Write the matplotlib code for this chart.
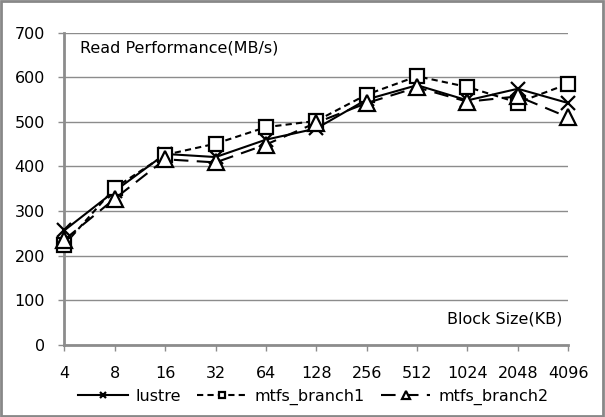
import matplotlib
matplotlib.use('Agg')
import matplotlib.pyplot as plt
from matplotlib.patches import Rectangle

# block sizes (KB) and read throughput (MB/s)
block_sizes = ['4', '8', '16', '32', '64', '128', '256', '512', '1024', '2048', '4096']
lustre = [257, 345, 428, 421, 460, 485, 550, 582, 548, 574, 542]
mtfs_branch1 = [225, 352, 426, 451, 488, 502, 561, 602, 578, 543, 585]
mtfs_branch2 = [236, 328, 416, 409, 449, 498, 542, 577, 545, 557, 510]

plt.rcParams['font.family'] = ['DejaVu Sans']

fig = plt.figure(figsize=(6.05, 4.17), dpi=100)
ax = fig.add_axes([0.1066, 0.1727, 0.8326, 0.7493])

x = list(range(len(block_sizes)))

ax.plot(x, lustre, color='black', lw=1.5, ls='-', marker='x', ms=10, mew=1.6,
        label='lustre', zorder=3, clip_on=False)
ax.plot(x, mtfs_branch1, color='black', lw=1.5, ls=(0, (3, 2)), marker='s', ms=10,
        mfc='white', mec='black', mew=1.6, label='mtfs_branch1', zorder=3, clip_on=False)
ax.plot(x, mtfs_branch2, color='black', lw=1.5, ls=(0, (7, 4)), marker='^', ms=11,
        mfc='white', mec='black', mew=1.6, label='mtfs_branch2', zorder=3, clip_on=False)

ax.set_xlim(0, len(block_sizes) - 1)
ax.set_ylim(0, 700)
ax.set_xticks(x)
ax.set_xticklabels(block_sizes)
ax.set_yticks(range(0, 701, 100))
ax.grid(axis='y', color='#8c8c8c', lw=1)
ax.set_axisbelow(True)

for s in ['top', 'right']:
    ax.spines[s].set_visible(False)
ax.spines['left'].set_color('#8c8c8c')
ax.spines['left'].set_linewidth(2)
ax.spines['bottom'].set_color('#8c8c8c')
ax.spines['bottom'].set_linewidth(2)
ax.tick_params(axis='both', colors='#8c8c8c', labelcolor='black', labelsize=11.5,
               length=4, width=1)
ax.tick_params(axis='x', pad=11)
ax.tick_params(axis='y', pad=10)

ax.text(0.03, 0.95, 'Read Performance(MB/s)', transform=ax.transAxes,
        fontsize=11.5, ha='left', va='center')
ax.text(0.988, 0.083, 'Block Size(KB)', transform=ax.transAxes,
        fontsize=11.5, ha='right', va='center')

leg = fig.legend(loc='center', bbox_to_anchor=(0.518, 0.048), ncol=3, frameon=False,
                 fontsize=11.5, handlelength=3.1, handletextpad=0.5, columnspacing=1.0,
                 markerscale=0.5)

fig.patches.append(Rectangle((0.002, 0.003), 0.995, 0.994, transform=fig.transFigure,
                             fill=False, edgecolor='#888888', lw=2))

fig.savefig('out.png', dpi=100)
